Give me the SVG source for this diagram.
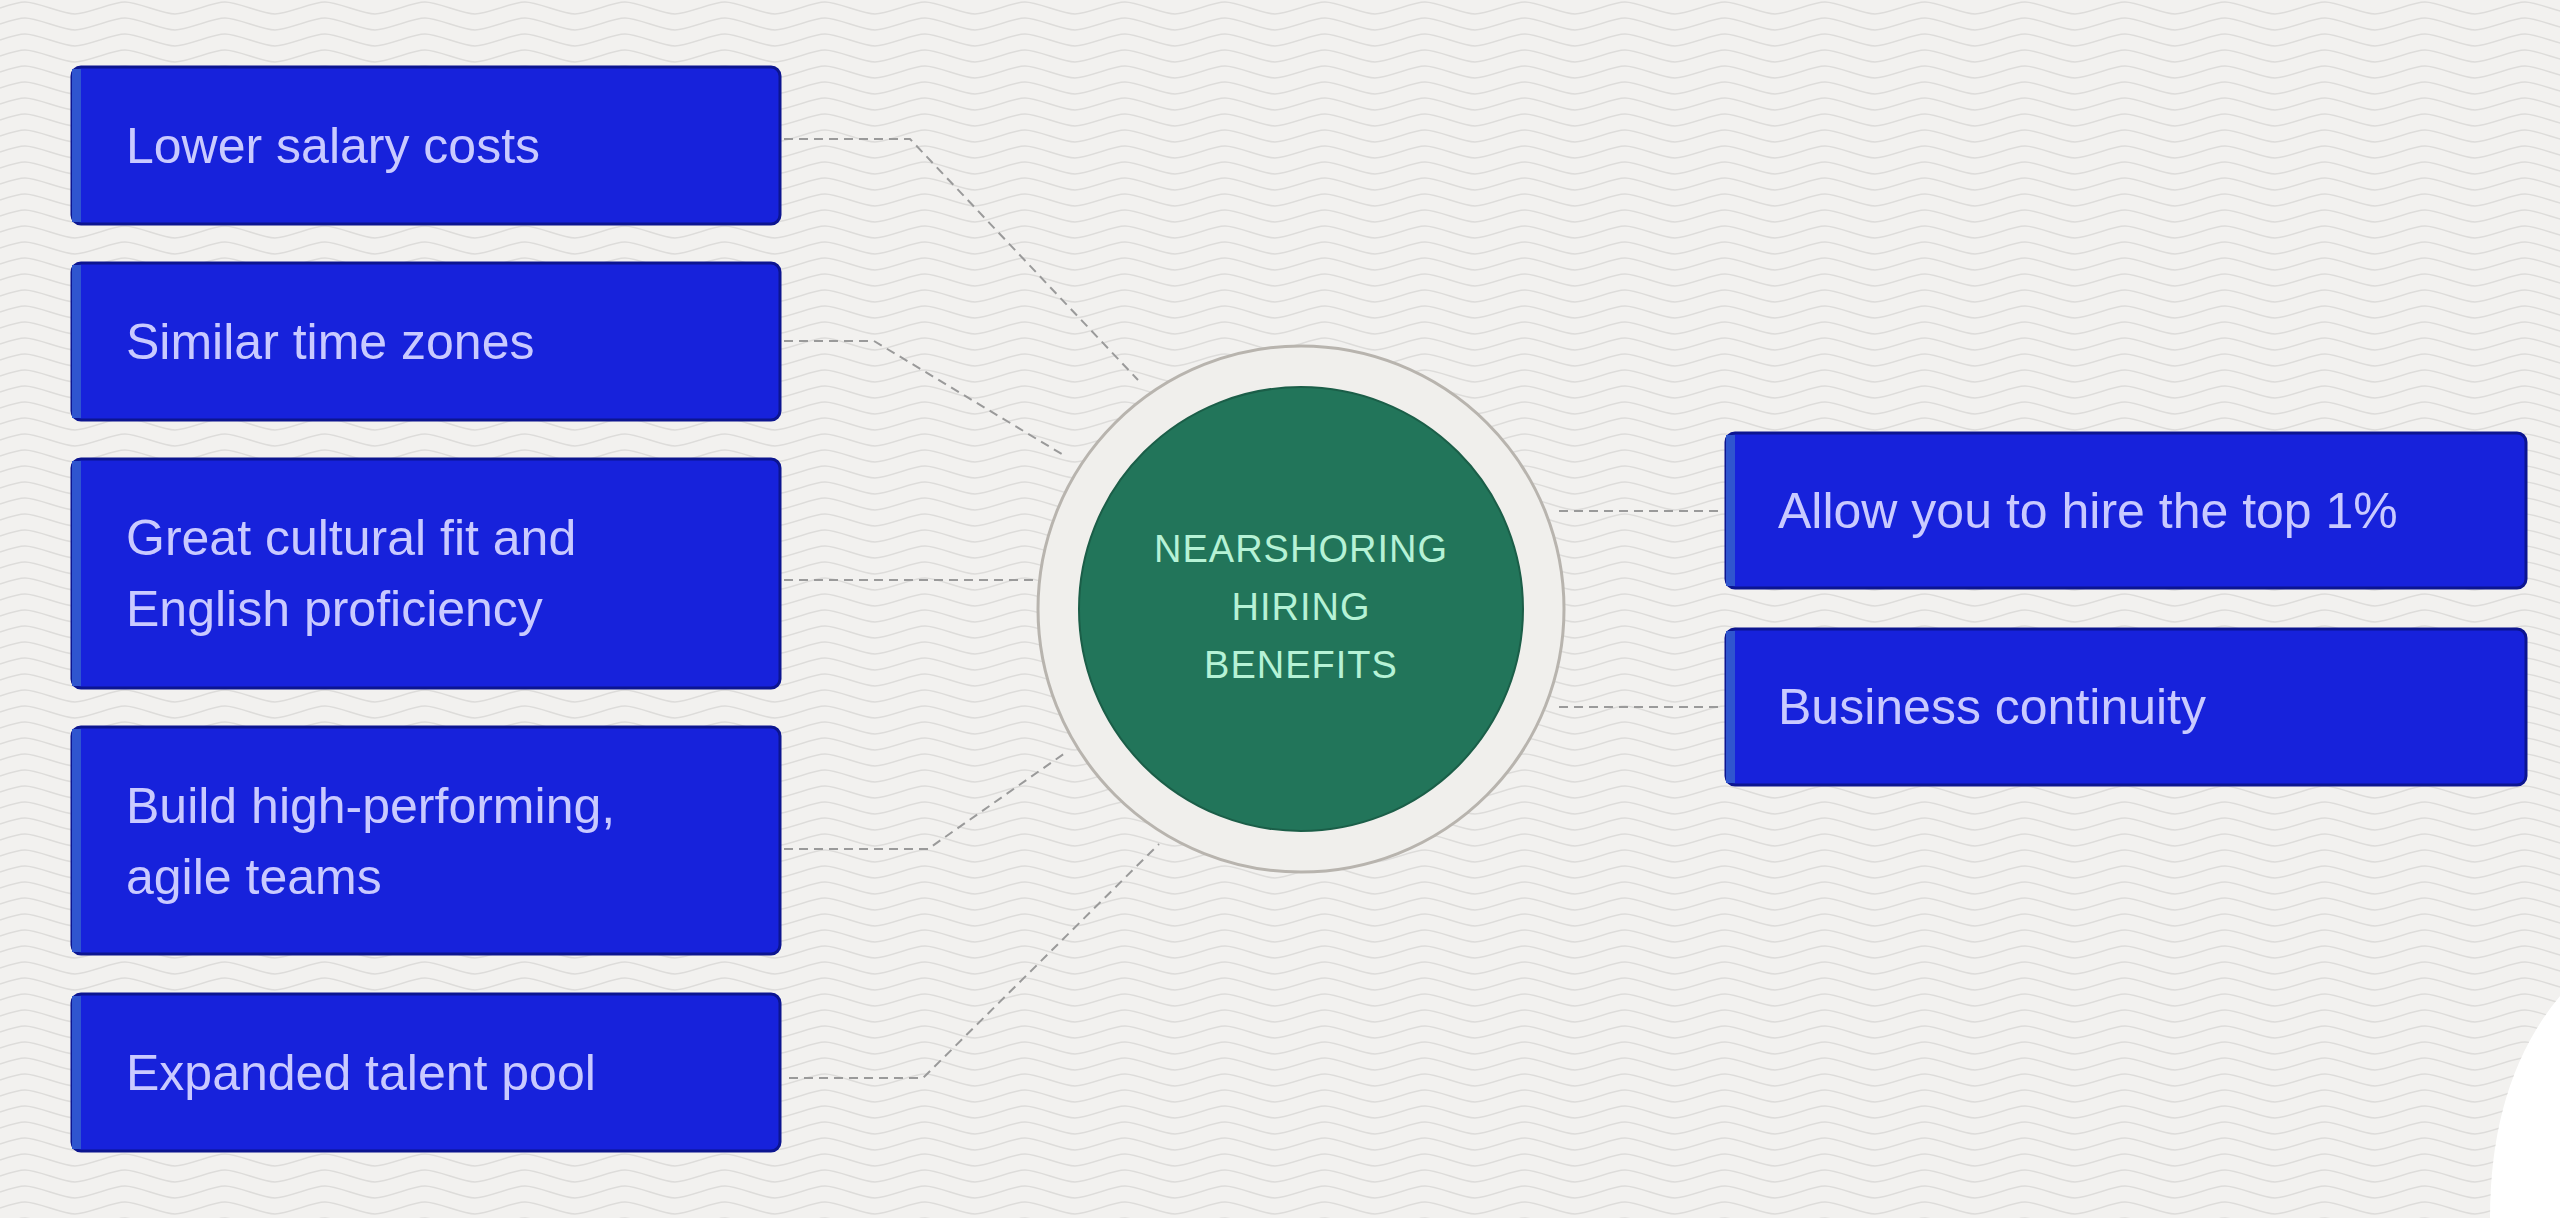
<svg xmlns="http://www.w3.org/2000/svg" width="2560" height="1218" viewBox="0 0 2560 1218">
<defs>
<pattern id="wave" width="100" height="16" patternUnits="userSpaceOnUse">
<path d="M0 8 C25 0 25 0 50 8 S75 16 100 8" fill="none" stroke="#dddcda" stroke-width="1.6"/>
</pattern>
<style>
.box{fill:#1722db;stroke:#0c1590;stroke-width:3}
.stripe{fill:#2f55cf}
.bt{font-family:"Liberation Sans",Arial,sans-serif;font-size:50px;fill:#c9caff}
.ct{font-family:"Liberation Sans",Arial,sans-serif;font-size:38px;fill:#b6f2d6;text-anchor:middle;letter-spacing:1px}
.con{fill:none;stroke:#9a9a9a;stroke-width:2;stroke-dasharray:9 6}
</style>
</defs>
<rect width="2560" height="1218" fill="#ffffff"/>
<path id="bg" d="M0 0 H2560 V996 Q2490 1080 2490 1218 H0 Z" fill="#f2f1ef"/>
<path d="M0 0 H2560 V996 Q2490 1080 2490 1218 H0 Z" fill="url(#wave)"/>
<g id="connectors">
<polyline class="con" points="784,139 910,139 1138,380"/>
<polyline class="con" points="784,341 874,341 1065,456"/>
<polyline class="con" points="784,580 1035,580"/>
<polyline class="con" points="784,849 928,849 1065,753"/>
<polyline class="con" points="789,1078 923,1078 1159,844"/>
<polyline class="con" points="1559,511 1720,511"/>
<polyline class="con" points="1559,707 1720,707"/>
</g>
<g id="center">
<circle cx="1301" cy="609" r="263" fill="#f0efec" stroke="#b8b4ae" stroke-width="3"/>
<circle cx="1301" cy="609" r="222" fill="#22755a" stroke="#1b5e48" stroke-width="2"/>
<text class="ct" x="1301" y="562">NEARSHORING</text>
<text class="ct" x="1301" y="620">HIRING</text>
<text class="ct" x="1301" y="678">BENEFITS</text>
</g>
<g id="n1"><rect class="box" x="72" y="67" width="708" height="157" rx="9"/><rect class="stripe" x="72" y="69" width="9" height="153"/><text class="bt" x="126" y="163">Lower salary costs</text></g>
<g id="n2"><rect class="box" x="72" y="263" width="708" height="157" rx="9"/><rect class="stripe" x="72" y="265" width="9" height="153"/><text class="bt" x="126" y="359">Similar time zones</text></g>
<g id="n3"><rect class="box" x="72" y="459" width="708" height="229" rx="9"/><rect class="stripe" x="72" y="461" width="9" height="225"/><text class="bt" x="126" y="555">Great cultural fit and</text><text class="bt" x="126" y="626">English proficiency</text></g>
<g id="n4"><rect class="box" x="72" y="727" width="708" height="227" rx="9"/><rect class="stripe" x="72" y="729" width="9" height="223"/><text class="bt" x="126" y="823">Build high-performing,</text><text class="bt" x="126" y="894">agile teams</text></g>
<g id="n5"><rect class="box" x="72" y="994" width="708" height="157" rx="9"/><rect class="stripe" x="72" y="996" width="9" height="153"/><text class="bt" x="126" y="1090">Expanded talent pool</text></g>
<g id="n6"><rect class="box" x="1726" y="433" width="800" height="155" rx="9"/><rect class="stripe" x="1726" y="435" width="9" height="151"/><text class="bt" x="1778" y="528">Allow you to hire the  top 1%</text></g>
<g id="n7"><rect class="box" x="1726" y="629" width="800" height="156" rx="9"/><rect class="stripe" x="1726" y="631" width="9" height="152"/><text class="bt" x="1778" y="724">Business continuity</text></g>
</svg>
